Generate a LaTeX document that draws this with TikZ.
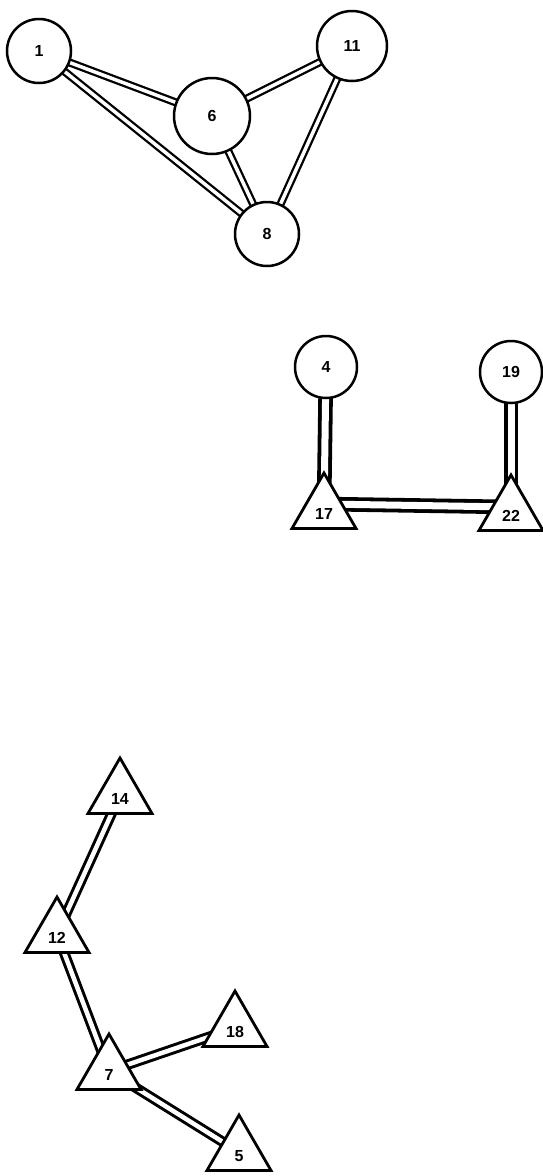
\documentclass[tikz,border=0pt]{standalone}
\usepackage{fontspec}
\setmainfont{Liberation Sans}
\usetikzlibrary{shapes.geometric}
\pgfdeclarelayer{paper}
\pgfdeclarelayer{links}
\pgfsetlayers{paper,links,main}
\tikzset{
  cnode/.style={circle, draw, line width=2.5pt, fill=white, inner sep=0pt, font=\bfseries\fontsize{16}{16}\selectfont},
  tnode/.style={regular polygon, regular polygon sides=3, draw, line width=2.8pt, fill=white, inner sep=0pt, minimum size=74pt},
  tlab/.style={font=\bfseries\fontsize{16}{16}\selectfont, yshift=-4pt},
  thin link/.style={line width=2.3pt, double=white, double distance=3.5pt},
  mid link/.style={line width=3.8pt, double=white, double distance=7pt},
  low link/.style={line width=3pt, double=white, double distance=4.5pt},
}
\begin{document}
\begin{tikzpicture}[x=1pt,y=-1pt]
\useasboundingbox (0,0) rectangle (543,1176);
\begin{pgfonlayer}{paper}
\fill[white] (0,0) rectangle (543,1176);
\end{pgfonlayer}
% top group
\node[cnode, minimum size=64pt] (n1) at (39,51) {1};
\node[cnode, minimum size=76pt] (n6) at (212,116) {6};
\node[cnode, minimum size=70pt] (n11) at (352,46) {11};
\node[cnode, minimum size=64pt] (n8) at (267,234) {8};
% middle group
\node[cnode, minimum size=62pt] (n4) at (326,367) {4};
\node[cnode, minimum size=62pt] (n19) at (511,372) {19};
\node[tnode, label={[tlab]center:17}] (n17) at (324,510) {};
\node[tnode, label={[tlab]center:22}] (n22) at (511,512) {};
% bottom group
\node[tnode, label={[tlab]center:14}] (n14) at (120,795) {};
\node[tnode, label={[tlab]center:12}] (n12) at (57,934) {};
\node[tnode, label={[tlab]center:18}] (n18) at (235,1028) {};
\node[tnode, label={[tlab]center:7}] (n7) at (109,1071) {};
\node[tnode, label={[tlab]center:5}] (n5) at (239,1152) {};
\begin{pgfonlayer}{links}
\draw[thin link] (n1.center) -- (n6.center);
\draw[thin link] (n1.center) -- (n8.center);
\draw[thin link] (n6.center) -- (n11.center);
\draw[thin link] (n6.center) -- (n8.center);
\draw[thin link] (n11.center) -- (n8.center);
\draw[mid link] (n4.center) -- (n17.center);
\draw[mid link] (n19.center) -- (n22.center);
\draw[mid link] ([yshift=6pt]n17.center) -- ([yshift=5pt]n22.center);
\draw[low link] (n14.center) -- (n12.center);
\draw[low link] (n12.center) -- (n7.center);
\draw[low link] (n7.center) -- (n18.center);
\draw[low link] (n7.center) -- (n5.center);
\end{pgfonlayer}
\end{tikzpicture}
\end{document}
